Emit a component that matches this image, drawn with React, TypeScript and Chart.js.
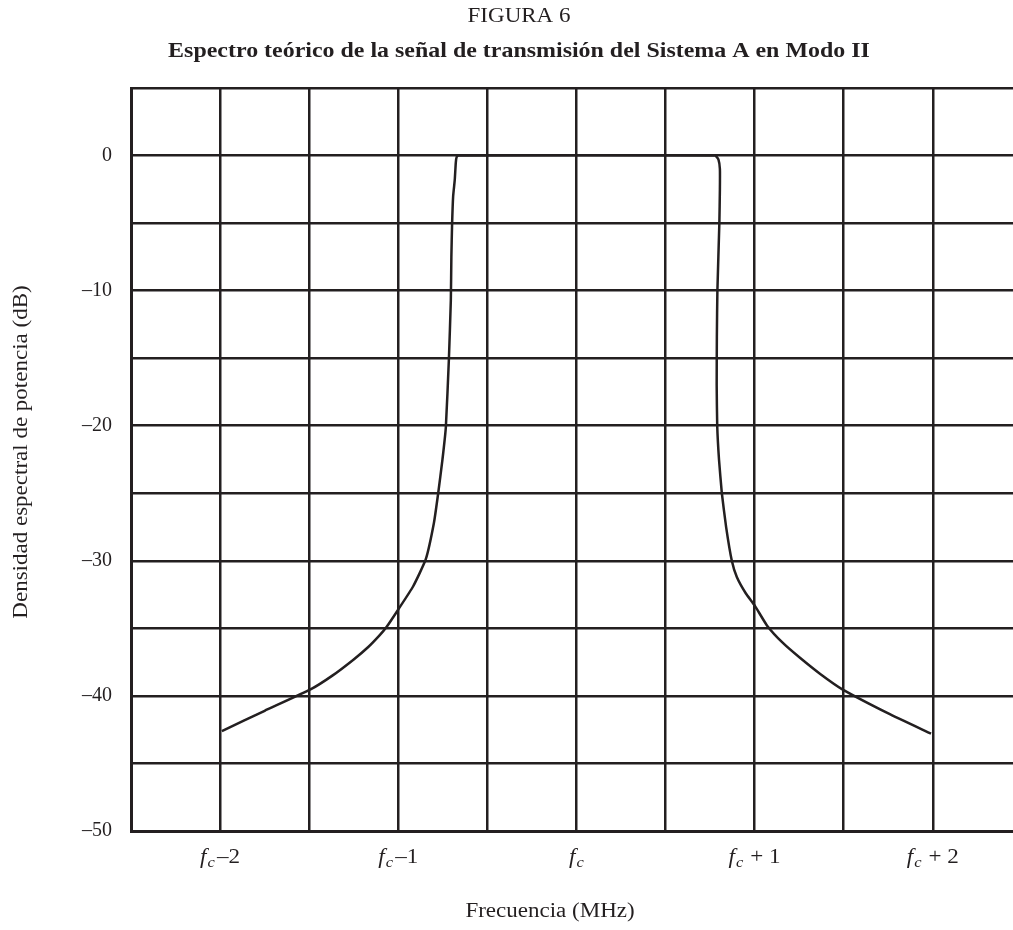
import React, { useEffect, useRef } from "react";
import { Chart, registerables } from "chart.js";

Chart.register(...registerables);

// Frequency offsets from fc (MHz) and power spectral density (dB)
const freqOffsets: number[] = [
  -1.99, -1.75, -1.49, -1.37, -1.25, -1.17, -1.104, -1.066, -1.0, -0.917, -0.846, -0.8,
  -0.776, -0.752, -0.733, -0.716, -0.705, -0.702, -0.698, -0.692, -0.683, -0.677, -0.672,
  -0.662,
  0.778, 0.797, 0.805, 0.805, 0.802, 0.791, 0.788, 0.787, 0.79, 0.8, 0.816, 0.84, 0.872,
  0.9, 0.95, 1.0, 1.07, 1.16, 1.256, 1.37, 1.49, 1.75, 1.99,
];
const psdValues: number[] = [
  -42.6, -41.1, -39.5, -38.5, -37.3, -36.4, -35.5, -34.9, -33.6, -31.9, -29.9, -27.2,
  -25.0, -22.5, -20.1, -15.1, -10.7, -7.5, -5.1, -3.0, -1.8, -0.5, -0.1,
  0,
  0, -0.3, -1.0, -2.5, -5.0, -10.0, -13.4, -17.0, -20.0, -22.5, -25.0, -27.5, -30.0,
  -31.2, -32.4, -33.3, -34.8, -36.1, -37.2, -38.4, -39.5, -41.3, -42.8,
];

const xLabelValues: number[] = [-2, -1, 0, 1, 2];
const xLabelSuffixes: string[] = ["\u20132", "\u20131", "", " + 1", " + 2"];
const yLabelValues: number[] = [0, -10, -20, -30, -40, -50];

const titleText = "FIGURA 6";
const subtitleText = "Espectro te\u00f3rico de la se\u00f1al de transmisi\u00f3n del Sistema A en Modo II";
const xTitle = "Frecuencia (MHz)";
const yTitle = "Densidad espectral de potencia (dB)";

const SERIF = "'Liberation Serif', 'Times New Roman', serif";
const INK = "#231f20";
const STRETCH = 1.15;

function drawStretched(
  ctx: any,
  text: string,
  x: number,
  y: number,
  font: string,
  sx: number
) {
  ctx.save();
  ctx.translate(x, y);
  ctx.scale(sx, 1);
  ctx.font = font;
  ctx.textBaseline = "middle";
  ctx.textAlign = "center";
  ctx.fillText(text, 0, 0);
  ctx.restore();
}

const textPlugin = {
  id: "figureTexts",
  afterDraw(chart: any) {
    const ctx = chart.ctx;
    const xs = chart.scales.x;
    const area = chart.chartArea;
    ctx.save();
    ctx.fillStyle = INK;

    // Titles
    drawStretched(ctx, titleText, 519, 17, `20px ${SERIF}`, STRETCH);
    drawStretched(ctx, subtitleText, 519, 52, `bold 21px ${SERIF}`, 1.14);

    // Axis titles
    drawStretched(ctx, xTitle, 550, 912, `20px ${SERIF}`, STRETCH);
    ctx.save();
    ctx.translate(22, 452);
    ctx.rotate(-Math.PI / 2);
    drawStretched(ctx, yTitle, 0, 0, `20px ${SERIF}`, STRETCH);
    ctx.restore();

    // x tick labels: f (italic) with subscript c
    const y = area.bottom + 26;
    const sx = 1.1;
    xLabelValues.forEach((v, i) => {
      const suffix = xLabelSuffixes[i];
      const fFont = `italic 21px ${SERIF}`;
      const cFont = `italic 15px ${SERIF}`;
      const sFont = `21px ${SERIF}`;
      ctx.font = fFont;
      const wf = ctx.measureText("f").width;
      ctx.font = cFont;
      const wc = ctx.measureText("c").width;
      ctx.font = sFont;
      const ws = suffix ? ctx.measureText(suffix).width : 0;
      const gap = suffix.startsWith(" ") ? 1 : 2;
      const total = wf + 1 + wc + (suffix ? gap + ws : 0);
      ctx.save();
      ctx.translate(xs.getPixelForValue(v), y);
      ctx.scale(sx, 1);
      ctx.textBaseline = "middle";
      ctx.textAlign = "left";
      let x = -total / 2;
      ctx.font = fFont;
      ctx.fillText("f", x, 0);
      x += wf + 1;
      ctx.font = cFont;
      ctx.fillText("c", x, 6);
      x += wc + gap;
      if (suffix) {
        ctx.font = sFont;
        ctx.fillText(suffix, x, 0);
      }
      ctx.restore();
    });
    ctx.restore();
  },
};

export default function App() {
  const ref = useRef<HTMLCanvasElement | null>(null);

  useEffect(() => {
    document.body.style.margin = "0";
    const canvas = ref.current;
    if (!canvas) return;
    const points = freqOffsets.map((x, i) => ({ x, y: psdValues[i] }));
    const chart = new Chart(canvas, {
      type: "line",
      data: {
        datasets: [
          {
            data: points,
            borderColor: INK,
            borderWidth: 2.5,
            pointRadius: 0,
            tension: 0.15,
            fill: false,
            borderJoinStyle: "round",
          },
        ],
      },
      options: {
        animation: false,
        responsive: false,
        devicePixelRatio: 1,
        layout: { padding: { left: 0, right: 0, top: 88, bottom: 0 } },
        plugins: {
          legend: { display: false },
          tooltip: { enabled: false },
          title: { display: false },
        },
        scales: {
          x: {
            type: "linear",
            min: -2.5,
            max: 2.45,
            afterFit: (scale: any) => {
              scale.height = 99;
            },
            ticks: {
              stepSize: 0.5,
              includeBounds: false,
              color: "rgba(0,0,0,0)",
              font: { family: SERIF, size: 20 },
            },
            grid: { color: INK, lineWidth: 2.5, drawTicks: false },
            border: { display: true, color: INK, width: 3 },
          },
          y: {
            type: "linear",
            min: -50,
            max: 5,
            afterFit: (scale: any) => {
              scale.width = 131;
            },
            ticks: {
              stepSize: 5,
              padding: 19,
              color: INK,
              font: { family: SERIF, size: 20 },
              callback: (v: any) => {
                const n = Number(v);
                if (!yLabelValues.includes(n)) return "";
                return n < 0 ? "\u2013" + Math.abs(n) : String(n);
              },
            },
            grid: { color: INK, lineWidth: 2.5, drawTicks: false },
            border: { display: true, color: INK, width: 3 },
          },
        },
      },
      plugins: [textPlugin],
    } as any);
    return () => chart.destroy();
  }, []);

  return <canvas ref={ref} width={1013} height={930} style={{ display: "block" }} />;
}
